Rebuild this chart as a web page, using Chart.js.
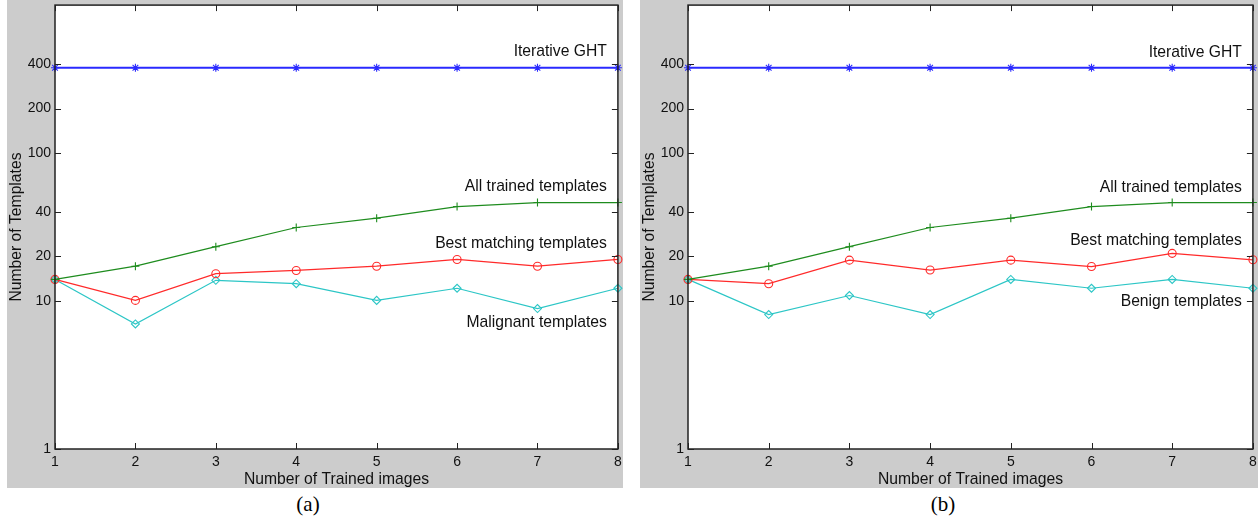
<!DOCTYPE html>
<html>
<head>
<meta charset="utf-8">
<script src="https://cdn.jsdelivr.net/npm/chart.js@4.4.1/dist/chart.umd.min.js"></script>
<style>
  html, body { margin: 0; padding: 0; background: #ffffff; width: 1258px; height: 521px; overflow: hidden; }
  .panel { position: absolute; top: 0; height: 488px; background: #cccccc; }
  .caption { position: absolute; top: 492px; font-family: "Liberation Serif", "Times New Roman", serif; font-size: 21px; color: #000; transform: translateX(-50%); }
</style>
</head>
<body>
<div class="panel" id="pa" style="left:7px; width:616px;"><canvas id="ca"></canvas></div>
<div class="panel" id="pb" style="left:640px; width:618px;"><canvas id="cb"></canvas></div>
<div class="caption" style="left:308px;">(a)</div>
<div class="caption" style="left:943px;">(b)</div>
<script>
// ---------- data ----------
const categories = ['1', '2', '3', '4', '5', '6', '7', '8'];
const yTickValues = [1, 10, 20, 40, 100, 200, 400];

// chart (a)
const ghtA        = [377, 377, 377, 377, 377, 377, 377, 377];
const allTrainedA = [14, 17.2, 23.3, 31.4, 36.3, 43.5, 46.3, 46.3];
const bestMatchA  = [14, 10.1, 15.3, 16.1, 17.2, 19.1, 17.2, 19.1];
const malignantA  = [14, 7.0, 13.8, 13.1, 10.1, 12.2, 8.9, 12.2];

// chart (b)
const ghtB        = [377, 377, 377, 377, 377, 377, 377, 377];
const allTrainedB = [14, 17.2, 23.3, 31.4, 36.3, 43.5, 46.3, 46.3];
const bestMatchB  = [14, 13.1, 18.9, 16.2, 18.9, 17.1, 21.0, 19.0];
const benignB     = [14, 8.1, 10.9, 8.1, 14.0, 12.2, 14.0, 12.2];

// series label texts and the y value at which each label sits
const labelsA = ['Iterative GHT', 'All trained templates', 'Best matching templates', 'Malignant templates'];
const labelYA = [481, 58.9, 24.3, 7.1];
const labelsB = ['Iterative GHT', 'All trained templates', 'Best matching templates', 'Benign templates'];
const labelYB = [474, 58, 25.4, 9.9];

const xTitle = 'Number of Trained images';
const yTitle = 'Number of Templates';

// ---------- styling ----------
const FONT = '"Liberation Sans", Arial, Helvetica, sans-serif';
const TEXT_COLOR = '#111111';

function ds(label, data, color, style, width) {
  return {
    label, data,
    borderColor: color, backgroundColor: 'rgba(0,0,0,0)',
    borderWidth: width || 1.2,
    pointStyle: style, pointRadius: 4, pointHoverRadius: 4,
    pointBorderColor: color, pointBackgroundColor: 'rgba(0,0,0,0)',
    pointBorderWidth: 1.1,
    tension: 0, fill: false, clip: false
  };
}

const framePlugin = {
  id: 'frame',
  beforeDatasetsDraw(chart) {
    const { ctx, chartArea: a } = chart;
    ctx.save();
    ctx.fillStyle = '#ffffff';
    ctx.fillRect(a.left, a.top, a.right - a.left, a.bottom - a.top);
    ctx.restore();
  },
  afterDatasetsDraw(chart, args, opts) {
    const { ctx, chartArea: a, scales } = chart;
    const x = scales.x, y = scales.y;
    ctx.save();
    // frame
    ctx.strokeStyle = '#222222';
    ctx.lineWidth = 1.5;
    ctx.strokeRect(a.left, a.top, a.right - a.left, a.bottom - a.top);
    // inward tick marks
    ctx.lineWidth = 1;
    const L = 6;
    ctx.beginPath();
    categories.forEach((c, i) => {
      const px = Math.round(x.getPixelForValue(i)) + 0.5;
      ctx.moveTo(px, a.top); ctx.lineTo(px, a.top + L);
      ctx.moveTo(px, a.bottom); ctx.lineTo(px, a.bottom - L);
    });
    yTickValues.forEach(v => {
      const py = Math.round(y.getPixelForValue(v)) + 0.5;
      ctx.moveTo(a.left, py); ctx.lineTo(a.left + L, py);
      ctx.moveTo(a.right, py); ctx.lineTo(a.right - L, py);
    });
    ctx.stroke();
    // series labels, right aligned near the last category
    ctx.fillStyle = TEXT_COLOR;
    ctx.font = '15.7px ' + FONT;
    ctx.textAlign = 'right';
    ctx.textBaseline = 'middle';
    const rx = x.getPixelForValue(categories.length - 1) - 11;
    opts.texts.forEach((t, i) => {
      ctx.fillText(t, rx, y.getPixelForValue(opts.ys[i]));
    });
    ctx.restore();
  }
};

function makeChart(id, sets, texts, ys, plotWidthRightPad) {
  return new Chart(document.getElementById(id), {
    type: 'line',
    data: { labels: categories, datasets: sets },
    plugins: [framePlugin],
    options: {
      responsive: true,
      maintainAspectRatio: false,
      animation: false,
      events: [],
      layout: { padding: { top: 5, right: plotWidthRightPad, left: 0, bottom: 0 } },
      plugins: {
        legend: { display: false },
        tooltip: { enabled: false },
        frame: { texts, ys }
      },
      scales: {
        x: {
          type: 'category',
          offset: false,
          grid: { display: false, drawTicks: false },
          border: { display: false },
          ticks: { color: TEXT_COLOR, font: { family: FONT, size: 14 }, padding: 5, maxRotation: 0, autoSkip: false },
          title: { display: true, text: xTitle, color: TEXT_COLOR, font: { family: FONT, size: 15.7 }, padding: { top: 0, bottom: -1 } },
          afterFit(s) { s.height = 39; s.paddingLeft = 0; s.paddingRight = 0; }
        },
        y: {
          type: 'logarithmic',
          min: 1, max: 1000,
          grid: { display: false, drawTicks: false },
          border: { display: false },
          afterBuildTicks(s) { s.ticks = yTickValues.map(v => ({ value: v })); },
          ticks: {
            color: TEXT_COLOR, font: { family: FONT, size: 14 }, padding: 4,
            callback: (v) => String(v)
          },
          title: { display: true, text: yTitle, color: TEXT_COLOR, font: { family: FONT, size: 15.7 }, padding: { top: 0, bottom: 0 } },
          afterFit(s) { s.width = 48; s.paddingTop = 0; s.paddingBottom = 0; }
        }
      }
    }
  });
}

makeChart('ca', [
  ds('Iterative GHT', ghtA, '#2a2aff', 'star', 2),
  ds('All trained templates', allTrainedA, '#1e8c1e', 'cross'),
  ds('Best matching templates', bestMatchA, '#ff2a2a', 'circle'),
  ds('Malignant templates', malignantA, '#2cc6c6', 'rectRot')
], labelsA, labelYA, 4);

makeChart('cb', [
  ds('Iterative GHT', ghtB, '#2a2aff', 'star', 2),
  ds('All trained templates', allTrainedB, '#1e8c1e', 'cross'),
  ds('Best matching templates', bestMatchB, '#ff2a2a', 'circle'),
  ds('Benign templates', benignB, '#2cc6c6', 'rectRot')
], labelsB, labelYB, 5);
</script>
</body>
</html>
